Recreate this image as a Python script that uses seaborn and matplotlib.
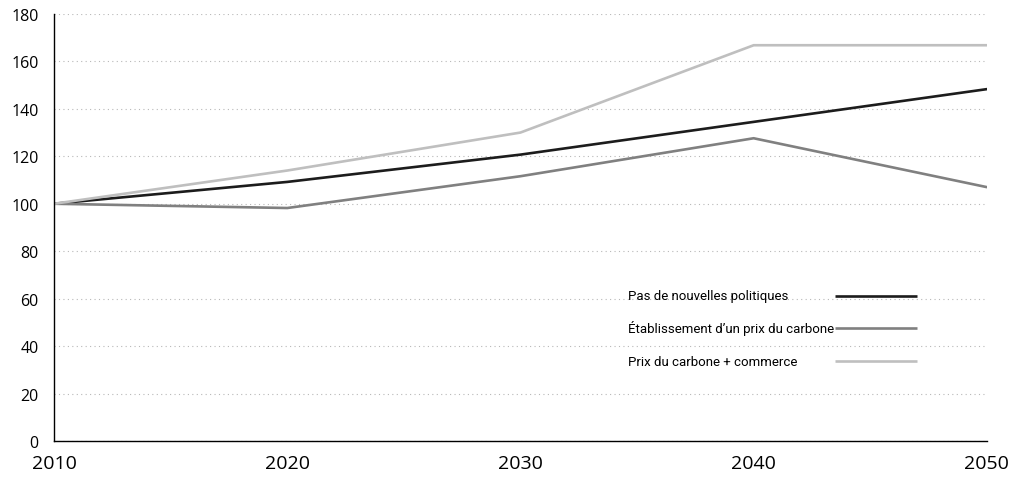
import matplotlib
matplotlib.use("Agg")
import matplotlib.pyplot as plt
import seaborn as sns
import pandas as pd

# Data (index, 2010 = 100)
years = [2010, 2020, 2030, 2040, 2050]
pas_nouvelles = [100, 109.2, 120.7, 134.5, 148.3]
prix_carbone = [100, 98.2, 111.6, 127.6, 107.0]
prix_commerce = [100, 114.0, 130.0, 166.8, 166.8]

series_names = [
    "Pas de nouvelles politiques",
    "Établissement d\u2019un prix du carbone",
    "Prix du carbone + commerce",
]
colors = ["#1c1c1c", "#808080", "#bfbfbf"]

df = pd.concat([
    pd.DataFrame({"year": years, "value": vals, "scenario": name})
    for name, vals in zip(series_names, [pas_nouvelles, prix_carbone, prix_commerce])
])

sns.set_theme(style="white")
narrow = ["Liberation Sans Narrow", "Roboto", "DejaVu Sans"]
ticks_font = ["Open Sans", "DejaVu Sans"]
plt.rcParams["font.family"] = ticks_font

fig = plt.figure(figsize=(10.2, 4.81), dpi=100)
ax = fig.add_axes([0.053, 0.081, 0.9145, 0.888])

sns.lineplot(data=df, x="year", y="value", hue="scenario",
             hue_order=series_names, palette=colors, linewidth=1.9,
             legend=False, ax=ax)

ax.set_xlim(2010, 2050)
ax.set_ylim(0, 180)
ax.set_xticks(years)
ax.set_yticks(range(0, 181, 20))
ax.set_xlabel("")
ax.set_ylabel("")
ax.tick_params(axis="x", length=0, pad=9, labelsize=14, colors="black")
ax.tick_params(axis="y", length=0, pad=11, labelsize=11.5, colors="black")

ax.yaxis.grid(True, linestyle=(0, (1, 3)), color="#b8b8b8", linewidth=0.8)
ax.xaxis.grid(False)
for side in ["top", "right"]:
    ax.spines[side].set_visible(False)
for side in ["left", "bottom"]:
    ax.spines[side].set_color("black")
    ax.spines[side].set_linewidth(1.0)

# legend: label on the left, line sample on the right (axes coordinates)
leg_rows = [0.340, 0.265, 0.187]
for name, col, yy in zip(series_names, colors, leg_rows):
    ax.text(0.615, yy, name, transform=ax.transAxes, ha="left", va="center",
            fontsize=9.5, family=narrow, color="black")
    ax.plot([0.837, 0.925], [yy, yy], transform=ax.transAxes, color=col,
            linewidth=1.9, solid_capstyle="butt")

fig.savefig("out.png", dpi=100)
